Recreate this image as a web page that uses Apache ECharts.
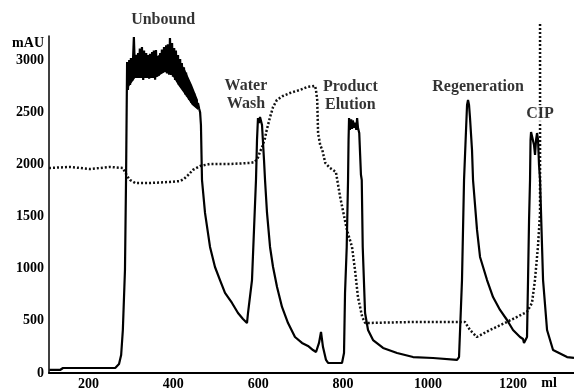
<!DOCTYPE html>
<html>
<head>
<meta charset="utf-8">
<script src="https://cdn.jsdelivr.net/npm/echarts@6/dist/echarts.min.js"></script>
<style>
  html, body { margin: 0; padding: 0; background: #fff; }
  #chart { width: 574px; height: 391px; }
</style>
</head>
<body>
<div id="chart"></div>
<script>
// UV trace (solid), volume in ml and absorbance in mAU
var uvMl = [108, 133, 140, 263, 272, 277, 281, 286, 288.5,
  291, 293, 296, 298, 300, 303, 305, 307, 310, 312, 314, 317, 319, 321, 324, 326, 329, 331, 333, 336,
  338, 340, 343, 345, 347, 350, 352, 354, 357, 359, 362, 364, 366, 369, 371, 373, 376, 378, 380, 383,
  385, 387, 390, 392, 395, 397, 399, 402, 404, 406, 409, 411, 413, 416, 418, 420, 423, 425, 428, 430,
  432, 435, 437, 439, 442, 444, 446, 449, 451, 453, 456, 458, 461, 463,
  465, 467.5, 474.6, 486.4, 498.1, 509.9, 521.7, 538.2, 552.3, 564.1, 573.5,
  575.9, 585.3, 590, 594.7, 597.1, 599.4, 601.8, 604.2, 608.9, 613.6, 616, 620.7, 627.8, 634.9, 644.3, 656, 670.2,
  686.6, 703.1, 717.2, 729, 736.2, 743.2, 747.9, 752.6, 759.7, 764.5, 797.4, 802.1, 804.5, 808.5, 811.6, 812.8,
  814, 816, 819, 821, 823, 826, 828, 831, 833, 835, 838, 840, 842,
  843.9, 846.2, 851.7, 858.7, 870.5, 894.1, 927.1, 964.7, 1011.8, 1068.4,
  1073.1, 1080.1, 1084.9, 1089.6, 1092, 1094.3, 1096.7, 1099, 1103.7, 1106.1, 1115.5, 1122.6, 1139.1, 1153.2,
  1169.7, 1186.2, 1200.3, 1216.8, 1223.9, 1226.2, 1233.3, 1235.7, 1238.1, 1240.4, 1241.6,
  1242.8, 1245.1, 1247.5, 1249.8, 1252.2, 1254.6, 1256.9, 1259.3, 1261.6, 1264, 1271.1, 1280.5, 1294.6, 1327.6, 1344];
var uvMau = [29, 29, 48, 48, 86, 173, 412, 987, 1850,
  2981, 2713, 3000, 2760, 3019, 2800, 3010, 3220, 2830, 3050, 2876, 3067, 2850, 3110, 2837, 3125, 2808, 3090,
  2830, 3067, 2840, 3048, 2820, 3060, 2830, 3077, 2828, 3090, 2810, 3096, 2840, 3029, 2850, 3067, 2870, 3100,
  2880, 3125, 2885, 3140, 2870, 3150, 2860, 3211, 2856, 3163, 2840, 3115, 2808, 3090, 2790, 3048, 2760, 3010,
  2740, 2971, 2710, 2930, 2670, 2880, 2650, 2780, 2620, 2740, 2590, 2713, 2575, 2680, 2560, 2640, 2540, 2588,
  2530, 2500,
  2377, 1850, 1534, 1208, 1016, 891, 767, 671, 575, 518, 479,
  575, 891, 1371, 1850, 2233, 2444, 2396, 2454, 2377, 2042, 1850, 1534, 1208, 1016, 824, 633, 479,
  345, 288, 259, 220, 201, 288, 393, 249, 125, 96, 96, 192, 767, 1208, 1850, 2233,
  2444, 2330, 2430, 2340, 2420, 2350, 2400, 2330, 2444, 2350, 2300, 2100, 1900,
  1850, 1208, 575, 412, 316, 240, 192, 153, 144, 125,
  153, 891, 1850, 2329, 2569, 2617, 2569, 2444, 2137, 1850, 1371, 1112, 891, 728,
  604, 508, 412, 345, 326, 288, 345, 891, 1466, 1850, 2233,
  2310, 2329, 2310, 2185, 2090, 2233, 2300, 2233, 1994, 1850, 891, 412, 220, 153, 144];

// solid core of the noisy plateau while unbound material passes
var plateauMl = [293, 310, 333, 357, 380, 397, 411, 428, 444, 458];
var plateauLow = [2732, 2828, 2828, 2828, 2885, 2856, 2760, 2665, 2569, 2521];
var plateauHigh = [2952, 3000, 3029, 3029, 3077, 3096, 3019, 2904, 2760, 2617];

// second trace (dotted)
var dotMl = [107, 157, 204, 251, 281, 286, 291, 298, 310, 345, 392, 416, 425, 435, 446, 463, 486, 533, 580,
  592, 599, 604, 611, 616, 620, 628, 635, 644, 658, 675, 698, 715, 734,
  736, 739, 741, 746, 751, 758, 769, 783, 793, 809, 821, 828, 835, 845, 852,
  964, 1068, 1087, 1099, 1115, 1146, 1186, 1233, 1245, 1252, 1259, 1264, 1264];
var dotMau = [1965, 1975, 1955, 1975, 1965, 1927, 1888, 1850, 1821, 1821, 1831, 1840, 1860, 1898, 1946, 1984, 2003, 2003, 2013,
  2022, 2061, 2118, 2185, 2252, 2329, 2454, 2550, 2617, 2655, 2684, 2713, 2741, 2751,
  2713, 2617, 2300, 2185, 2137, 2013, 1965, 1927, 1687, 1371, 1208, 987, 728, 537, 479,
  489, 489, 489, 412, 345, 412, 489, 585, 671, 891, 1208, 1534, 3364];

// step labels
var stepNames = ['Unbound', 'Water\nWash', 'Product\nElution', 'Regeneration', 'CIP'];
var stepMl = [376, 571, 817, 1118, 1264];
var stepMau = [3383, 2665, 2655, 2741, 2483];

var xTicks = [200, 400, 600, 800, 1000, 1200];
var yTicks = [0, 500, 1000, 1500, 2000, 2500, 3000];

var fontFamily = '"Liberation Serif", "DejaVu Serif", serif';

function zip(xs, ys) {
  return xs.map(function(x, i) { return [x, ys[i]] });
}

var chart = echarts.init(document.getElementById('chart'), null, { renderer: 'canvas' });
chart.setOption({
  animation: false,
  backgroundColor: '#fff',
  grid: { left: 49, right: 0, top: 36, bottom: 18, containLabel: false },
  xAxis: {
    type: 'value',
    min: 107,
    max: 1344,
    splitLine: { show: false },
    axisLine: { lineStyle: { color: '#000', width: 2 } },
    axisTick: { show: false, customValues: xTicks },
    axisLabel: {
      customValues: xTicks,
      formatter: function(v) { return String(v) },
      margin: 4,
      color: '#000',
      fontFamily: fontFamily,
      fontWeight: 'bold',
      fontSize: 14
    }
  },
  yAxis: {
    type: 'value',
    min: 0,
    max: 3230,
    splitLine: { show: false },
    axisLine: { show: true, lineStyle: { color: '#000', width: 1.5 } },
    axisTick: { show: false, customValues: yTicks },
    axisLabel: {
      customValues: yTicks,
      formatter: function(v) { return String(v) },
      margin: 5,
      color: '#000',
      fontFamily: fontFamily,
      fontWeight: 'bold',
      fontSize: 14
    }
  },
  graphic: [
    {
      type: 'text', x: 44, y: 43,
      style: { text: 'mAU', fill: '#000', font: 'bold 14px ' + fontFamily, align: 'right', verticalAlign: 'middle' }
    },
    {
      type: 'text', x: 549, y: 383,
      style: { text: 'ml', fill: '#000', font: 'bold 14px ' + fontFamily, align: 'center', verticalAlign: 'middle' }
    }
  ],
  series: [
    {
      name: 'plateau',
      type: 'custom',
      data: [0],
      z: 3,
      renderItem: function(params, api) {
        var pts = [];
        plateauMl.forEach(function(x, i) { pts.push(api.coord([x, plateauLow[i]])) });
        for (var i = plateauMl.length - 1; i >= 0; i--) pts.push(api.coord([plateauMl[i], plateauHigh[i]]));
        return { type: 'polygon', shape: { points: pts }, style: { fill: '#000' } };
      }
    },
    {
      name: 'UV',
      type: 'line',
      data: zip(uvMl, uvMau),
      showSymbol: false,
      clip: false,
      lineStyle: { color: '#000', width: 2.2 },
      z: 3
    },
    {
      name: 'second',
      type: 'line',
      data: zip(dotMl, dotMau),
      showSymbol: false,
      clip: false,
      lineStyle: { color: '#111', width: 2.5, type: [2, 2] },
      z: 2
    },
    {
      name: 'steps',
      type: 'scatter',
      symbolSize: 0,
      clip: false,
      data: stepNames.map(function(n, i) {
        return { name: n, value: [stepMl[i], stepMau[i]] }
      }),
      label: {
        show: true,
        position: 'inside',
        formatter: function(p) { return p.name },
        color: '#000',
        fontFamily: fontFamily,
        fontWeight: 'bold',
        fontSize: 16,
        lineHeight: 18,
        align: 'center',
        backgroundColor: '#fff',
        padding: [0, 1]
      },
      z: 5
    }
  ]
});
</script>
</body>
</html>
